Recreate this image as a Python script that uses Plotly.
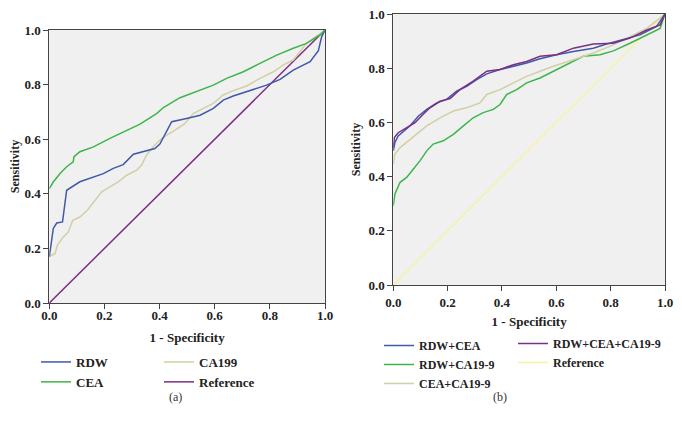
import plotly.graph_objects as go

# ---- panel (a) data: 1 - specificity / sensitivity ----
rdw_x = [0.0, 0.002, 0.005, 0.0145, 0.027, 0.048, 0.063, 0.111, 0.154, 0.196, 0.232, 0.268,
         0.305, 0.341, 0.383, 0.401, 0.444, 0.498, 0.547, 0.595, 0.631, 0.667, 0.728,
         0.788, 0.837, 0.885, 0.946, 0.976, 0.988, 1.0]
rdw_y = [0.17, 0.181, 0.205, 0.273, 0.293, 0.297, 0.413, 0.444, 0.458, 0.474, 0.493, 0.507,
         0.545, 0.554, 0.566, 0.582, 0.664, 0.676, 0.688, 0.713, 0.743, 0.758, 0.778,
         0.798, 0.819, 0.853, 0.884, 0.924, 0.976, 1.0]

cea_x = [0.0, 0.015, 0.039, 0.063, 0.087, 0.089, 0.111, 0.160, 0.220, 0.281, 0.329, 0.389,
         0.414, 0.474, 0.547, 0.595, 0.643, 0.704, 0.764, 0.825, 0.885, 0.933, 0.982, 1.0]
cea_y = [0.419, 0.444, 0.474, 0.499, 0.517, 0.535, 0.554, 0.572, 0.603, 0.633, 0.655, 0.694,
         0.716, 0.752, 0.780, 0.798, 0.823, 0.847, 0.878, 0.908, 0.933, 0.951, 0.982, 1.0]

ca199_x = [0.0, 0.008, 0.021, 0.029, 0.051, 0.069, 0.085, 0.111, 0.138, 0.162, 0.190, 0.220,
           0.250, 0.281, 0.317, 0.335, 0.353, 0.377, 0.401, 0.426, 0.456, 0.492, 0.522,
           0.559, 0.595, 0.631, 0.667, 0.716, 0.764, 0.813, 0.849, 0.885, 0.903, 0.933, 1.0]
ca199_y = [0.169, 0.175, 0.181, 0.211, 0.242, 0.260, 0.303, 0.315, 0.340, 0.370, 0.407, 0.425,
           0.444, 0.468, 0.487, 0.505, 0.542, 0.572, 0.597, 0.615, 0.633, 0.658, 0.694,
           0.713, 0.731, 0.762, 0.778, 0.795, 0.823, 0.847, 0.872, 0.890, 0.914, 0.951, 1.0]

ref_x = [0.0, 1.0]
ref_y = [0.0, 1.0]

# ---- panel (b) data ----
rc_x = [0.0, 0.006, 0.018, 0.037, 0.061, 0.092, 0.123, 0.160, 0.196, 0.233, 0.270, 0.307,
        0.344, 0.393, 0.442, 0.491, 0.540, 0.601, 0.663, 0.736, 0.785, 0.847, 0.908, 0.969, 1.0]
rc_y = [0.495, 0.526, 0.550, 0.568, 0.587, 0.623, 0.648, 0.672, 0.685, 0.715, 0.733, 0.758,
        0.779, 0.795, 0.807, 0.819, 0.835, 0.850, 0.862, 0.874, 0.889, 0.905, 0.923, 0.954, 1.0]

rcc_x = [0.0, 0.004, 0.018, 0.049, 0.080, 0.110, 0.135, 0.172, 0.209, 0.245, 0.294, 0.344,
         0.393, 0.442, 0.491, 0.540, 0.601, 0.663, 0.736, 0.810, 0.871, 0.933, 0.982, 1.0]
rcc_y = [0.507, 0.544, 0.562, 0.581, 0.599, 0.630, 0.654, 0.678, 0.688, 0.721, 0.752, 0.789,
         0.795, 0.813, 0.825, 0.844, 0.850, 0.874, 0.889, 0.892, 0.911, 0.941, 0.960, 1.0]

cc_x = [0.0, 0.006, 0.025, 0.049, 0.086, 0.123, 0.172, 0.221, 0.270, 0.319, 0.344, 0.393,
        0.442, 0.491, 0.540, 0.589, 0.663, 0.736, 0.810, 0.871, 0.933, 1.0]
cc_y = [0.446, 0.483, 0.507, 0.526, 0.556, 0.587, 0.617, 0.642, 0.654, 0.672, 0.703, 0.721,
        0.746, 0.770, 0.789, 0.807, 0.831, 0.856, 0.886, 0.917, 0.947, 1.0]

rca_x = [0.0, 0.006, 0.025, 0.049, 0.074, 0.098, 0.123, 0.147, 0.184, 0.221, 0.258, 0.294,
         0.331, 0.368, 0.393, 0.417, 0.454, 0.491, 0.540, 0.589, 0.638, 0.699, 0.761,
         0.810, 0.871, 0.933, 0.982, 1.0]
rca_y = [0.293, 0.336, 0.379, 0.397, 0.428, 0.458, 0.495, 0.520, 0.532, 0.556, 0.587, 0.617,
         0.636, 0.648, 0.666, 0.703, 0.721, 0.746, 0.764, 0.789, 0.813, 0.844, 0.850,
         0.864, 0.892, 0.923, 0.947, 1.0]

BLUE = '#4059a8'
GREEN = '#3db54a'
TAN = '#d2cfa5'
PURPLE = '#7d2e85'
YELLOW = '#f7f3a0'

fig = go.Figure()

def add(x, y, name, color, xa, ya, legend, rank):
    fig.add_trace(go.Scatter(x=x, y=y, mode='lines', name=name,
                             line=dict(color=color, width=1.5),
                             xaxis=xa, yaxis=ya, legend=legend, legendrank=rank))

# panel (a): two legend columns -> legend / legend2
add(ref_x, ref_y, 'Reference', PURPLE, 'x', 'y', 'legend2', 2)
add(ca199_x, ca199_y, 'CA199', TAN, 'x', 'y', 'legend2', 1)
add(rdw_x, rdw_y, 'RDW', BLUE, 'x', 'y', 'legend', 1)
add(cea_x, cea_y, 'CEA', GREEN, 'x', 'y', 'legend', 2)

# panel (b): legend3 / legend4
add(ref_x, ref_y, 'Reference', YELLOW, 'x2', 'y2', 'legend4', 2)
add(rca_x, rca_y, 'RDW+CA19-9', GREEN, 'x2', 'y2', 'legend3', 2)
add(cc_x, cc_y, 'CEA+CA19-9', TAN, 'x2', 'y2', 'legend3', 3)
add(rc_x, rc_y, 'RDW+CEA', BLUE, 'x2', 'y2', 'legend3', 1)
add(rcc_x, rcc_y, 'RDW+CEA+CA19-9', PURPLE, 'x2', 'y2', 'legend4', 1)

serif = 'Liberation Serif'
tickfont = dict(family=serif, size=13, color='#222', weight='bold')
ax_common = dict(range=[0, 1], dtick=0.2, tickformat='.1f', showgrid=False, zeroline=False,
                 showline=True, linecolor='#444', linewidth=1, mirror=True, automargin=False,
                 ticks='outside', ticklen=5, tickcolor='#444', tickfont=tickfont,
                 ticklabeloverflow='allow')
title_font = dict(family=serif, size=13, color='#222', weight='bold')
ytitle_font = dict(family=serif, size=12, color='#222', weight='bold')

# the page body adds an 8px offset, so the figure is a bit smaller than the window
OFF = 8
W, H = 682 - 2 * OFF, 432 - 2 * OFF

def fx(px):
    return (px - OFF) / W

def fy(py):
    return 1 - (py - OFF) / H

def leg(px, py, size=13):
    return dict(x=fx(px), y=fy(py), xanchor='left', yanchor='top',
                orientation='v', bgcolor='rgba(0,0,0,0)', traceorder='normal',
                font=dict(family=serif, size=size, color='#222', weight='bold'),
                tracegroupgap=0, itemwidth=30)

fig.update_layout(
    width=W, height=H,
    margin=dict(l=0, r=0, t=0, b=0),
    paper_bgcolor='white',
    plot_bgcolor='#f0f0f0',
    xaxis=dict(domain=[fx(49.3), fx(325)], anchor='y', ticklabelstandoff=-5,
               title=dict(text='1 - Specificity', font=title_font, standoff=11), **ax_common),
    yaxis=dict(domain=[fy(303), fy(30)], anchor='x',
               title=dict(text='Sensitivity', font=ytitle_font, standoff=3), **ax_common),
    xaxis2=dict(domain=[fx(393.3), fx(665)], anchor='y2',
                title=dict(text='1 - Specificity', font=title_font, standoff=8), **ax_common),
    yaxis2=dict(domain=[fy(285), fy(14)], anchor='x2',
                title=dict(text='Sensitivity', font=ytitle_font, standoff=5), **ax_common),
    legend=leg(36, 347),
    legend2=leg(159, 347),
    legend3=leg(379, 331, 12),
    legend4=leg(513, 329, 12),
    annotations=[
        dict(text='(a)', x=fx(167), y=fy(406), xref='paper', yref='paper',
             showarrow=False, font=dict(family=serif, size=12, color='#333')),
        dict(text='(b)', x=fx(509), y=fy(406), xref='paper', yref='paper',
             showarrow=False, font=dict(family=serif, size=12, color='#333')),
    ],
)

fig.write_html('out.html')
